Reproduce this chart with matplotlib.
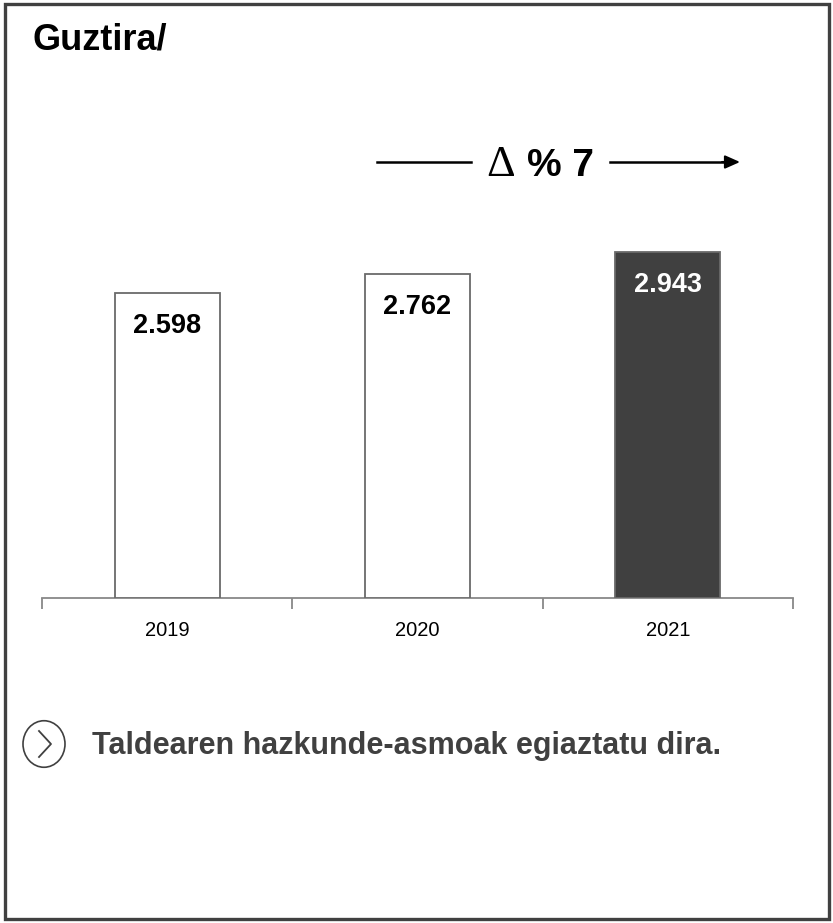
import matplotlib.pyplot as plt
from matplotlib.patches import Rectangle, Circle

years = ['2019', '2020', '2021']
values = [2598, 2762, 2943]
labels = ['2.598', '2.762', '2.943']
title = 'Guztira/'
note = 'Taldearen hazkunde-asmoak egiaztatu dira.'

W, H = 833, 923
sans = ['Liberation Sans Narrow', 'Liberation Sans', 'DejaVu Sans']


def fx(px):
    return px / W


def fy(py):
    return 1 - py / H


fig = plt.figure(figsize=(W / 100, H / 100), dpi=100)

# outer frame
fig.patches.append(Rectangle((fx(5), fy(919)), 824 / W, 915 / H, transform=fig.transFigure,
                             fill=False, edgecolor='#404040', linewidth=2.4))

# axes: x from 42 to 793 px, baseline at y=598 px
ax_left, ax_right, ax_base = 42, 793, 598
ymax = 3400
px_per_unit = 305 / 2598
ax_h = ymax * px_per_unit
ax = fig.add_axes([fx(ax_left), fy(ax_base), (ax_right - ax_left) / W, ax_h / H])

colors = ['white', 'white', '#404040']
ax.bar(range(3), values, width=0.42, color=colors, edgecolor='#6a6a6a', linewidth=1.3, zorder=3)
for i, (v, lab) in enumerate(zip(values, labels)):
    ax.annotate(lab, (i, v), xytext=(0, -33), textcoords='offset pixels', ha='center', va='center',
                fontsize=19.5, fontweight='bold', family=sans,
                color='white' if i == 2 else 'black')

ax.set_xlim(-0.5, 2.5)
ax.set_ylim(0, ymax)
for s in ['top', 'right', 'left']:
    ax.spines[s].set_visible(False)
ax.spines['bottom'].set_color('#888888')
ax.spines['bottom'].set_linewidth(1.3)
ax.set_yticks([])
ax.set_xticks([-0.5, 0.5, 1.5, 2.5])
ax.set_xticklabels([])
ax.tick_params(axis='x', length=8, color='#888888', width=1.3, direction='out')
for i, y in enumerate(years):
    ax.text(i, -33 / px_per_unit, y, ha='center', va='center', fontsize=14.5, family=sans)

# title
fig.text(fx(33), fy(50), title, ha='left', va='baseline', fontsize=26, fontweight='bold',
         family=sans)

# delta annotation
fig.text(fx(501), fy(176), '\u0394', ha='center', va='baseline', fontsize=32,
         family=['Liberation Serif', 'DejaVu Serif'])
fig.text(fx(527), fy(176), '% 7', ha='left', va='baseline', fontsize=28, fontweight='bold',
         family=sans)
fig.add_artist(plt.Line2D([fx(377), fx(471)], [fy(162), fy(162)], color='black', lw=1.8))
fig.add_artist(plt.Line2D([fx(610), fx(726)], [fy(162), fy(162)], color='black', lw=1.8))
ax.annotate('', xy=(fx(740), fy(162)), xytext=(fx(722), fy(162)), xycoords='figure fraction',
            arrowprops=dict(arrowstyle='-|>,head_length=0.9,head_width=0.4', color='black', lw=1.5,
                            shrinkA=0, shrinkB=0))

# note with circle bullet
cy = 744
fig.patches.append(Circle((fx(44), fy(cy)), 21 / W, transform=fig.transFigure, fill=False,
                          edgecolor='#404040', linewidth=1.2))
fig.add_artist(plt.Line2D([fx(39), fx(51), fx(39)], [fy(cy - 13), fy(cy), fy(cy + 13)],
                          color='#404040', lw=1.3))
fig.text(fx(92), fy(cy + 10), note, ha='left', va='baseline', fontsize=22, fontweight='bold',
         color='#404040', family=sans)

fig.savefig('out.png', dpi=100)
